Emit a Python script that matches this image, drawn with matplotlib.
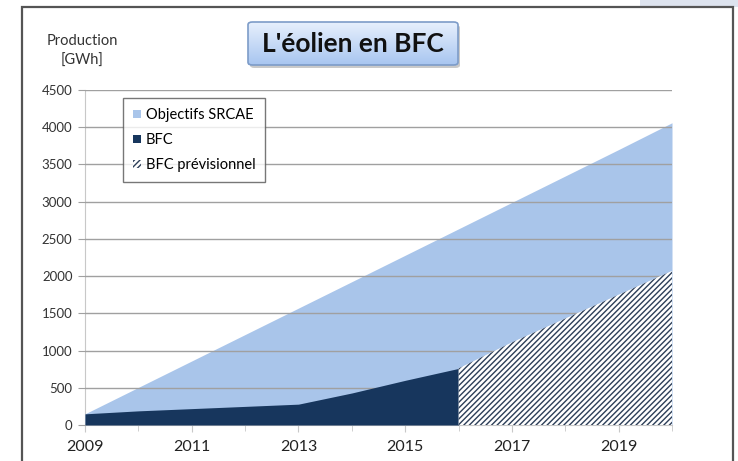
import numpy as np
import matplotlib
matplotlib.use('Agg')
import matplotlib.pyplot as plt
from matplotlib.patches import Patch, FancyBboxPatch, Rectangle

plt.rcParams['font.family'] = ['Lato', 'DejaVu Sans']
plt.rcParams['hatch.linewidth'] = 1.0

# données
annees = [2009, 2010, 2011, 2012, 2013, 2014, 2015, 2016, 2017, 2018, 2019, 2020]
objectifs_srcae = [150, 505, 860, 1215, 1570, 1925, 2280, 2635, 2990, 3345, 3700, 4060]
annees_bfc = [2009, 2010, 2011, 2012, 2013, 2014, 2015, 2016]
bfc = [150, 190, 220, 250, 280, 430, 600, 760]
annees_prev = [2016, 2017, 2018, 2019, 2020]
bfc_prev = [760, 1110, 1430, 1750, 2070]
xticks = [2009, 2011, 2013, 2015, 2017, 2019]
yticks = list(range(0, 4501, 500))

bleu_clair = '#a9c5ea'
marine = '#17365d'
hachure = '#2c3e58'

fig = plt.figure(figsize=(7.38, 4.61), dpi=100)
fig.patch.set_facecolor('white')

# coin gris-bleu en haut à droite + cadre
fig.patches.append(Rectangle((640/738, 1 - 7/461), 98/738, 7/461, transform=fig.transFigure,
                             facecolor='#dde3ee', edgecolor='none', zorder=0))
fig.patches.append(Rectangle((22/738, -0.01), 711/738, 1 - 7/461 + 0.01, transform=fig.transFigure,
                             facecolor='white', edgecolor='#555555', linewidth=1.6, zorder=1))

ax = fig.add_axes([85/738, 1 - 425/461, 587/738, 335/461])
ax.set_zorder(2)
ax.patch.set_alpha(0)

ax.fill_between(annees, 0, objectifs_srcae, color=bleu_clair, linewidth=0, zorder=2)
ax.fill_between(annees_bfc, 0, bfc, color=marine, linewidth=0, zorder=3)
ax.fill_between(annees_prev, 0, bfc_prev, facecolor='white', edgecolor=hachure,
                hatch='//////', linewidth=0, zorder=3)

ax.set_xlim(2009, 2020)
ax.set_ylim(0, 4500)
ax.set_yticks(yticks)
ax.set_xticks(xticks)
ax.set_xticks(annees, minor=True)
ax.grid(axis='y', color='#a0a0a0', linewidth=1.0, zorder=1)
ax.set_axisbelow(False)
for s in ['top', 'right']:
    ax.spines[s].set_visible(False)
ax.spines['left'].set_color('#c8c8c8')
ax.spines['bottom'].set_color('#c8c8c8')
ax.spines['left'].set_zorder(1)
ax.tick_params(axis='y', labelsize=9.5, colors='#a0a0a0', length=5, labelcolor='#333333', pad=4)
ax.tick_params(axis='x', which='both', labelsize=11.5, colors='#c8c8c8', length=5,
               direction='out', labelcolor='#222222', pad=6)
ax.tick_params(axis='x', which='minor', length=4)

fig.text(82/738, 1 - 41/461, 'Production', ha='center', va='center', fontsize=10.5, color='#333333')
fig.text(82/738, 1 - 61/461, '[GWh]', ha='center', va='center', fontsize=10.5, color='#333333')

# titre encadré
tx0, ty0, tw, th = 248/738, 1 - 65/461, 210/738, 43/461
fig.patches.append(FancyBboxPatch((tx0 + 2/738, ty0 - 3/461), tw, th,
                                  boxstyle='round,pad=0,rounding_size=0.006',
                                  transform=fig.transFigure, facecolor='#c9c9c9',
                                  edgecolor='none', zorder=4))
grad = np.linspace(0, 1, 64).reshape(-1, 1)
img = fig.add_axes([tx0, ty0, tw, th])
img.imshow(grad, aspect='auto', cmap=matplotlib.colors.LinearSegmentedColormap.from_list(
    'g', ['#a8c5f0', '#e8f1fd']), extent=[0, 1, 0, 1], origin='lower')
img.axis('off')
img.set_zorder(6)
fig.text(tx0 + tw / 2, ty0 + th / 2, "L'éolien en BFC", ha='center', va='center',
         fontsize=19, fontweight='bold', color='#111111', zorder=7)
fig.patches.append(FancyBboxPatch((tx0, ty0), tw, th, boxstyle='round,pad=0,rounding_size=0.006',
                                  transform=fig.transFigure, facecolor='none', edgecolor='#7d9cc8',
                                  linewidth=1.2, zorder=8))

handles = [Patch(facecolor=bleu_clair, edgecolor='none'),
           Patch(facecolor=marine, edgecolor='none'),
           Patch(facecolor='white', edgecolor=hachure, hatch='//////', linewidth=0)]
labels = ['Objectifs SRCAE', 'BFC', 'BFC prévisionnel']
leg = ax.legend(handles, labels, loc='upper left', bbox_to_anchor=(38/587, 1 - 8/335),
                fontsize=10.5, frameon=True, fancybox=False, edgecolor='#555555',
                handlelength=0.55, handleheight=0.55, handletextpad=0.3, labelspacing=0.75,
                borderpad=0.7, borderaxespad=0)
leg.get_frame().set_linewidth(1.0)
leg.set_zorder(10)

fig.savefig('out.png', dpi=100)
